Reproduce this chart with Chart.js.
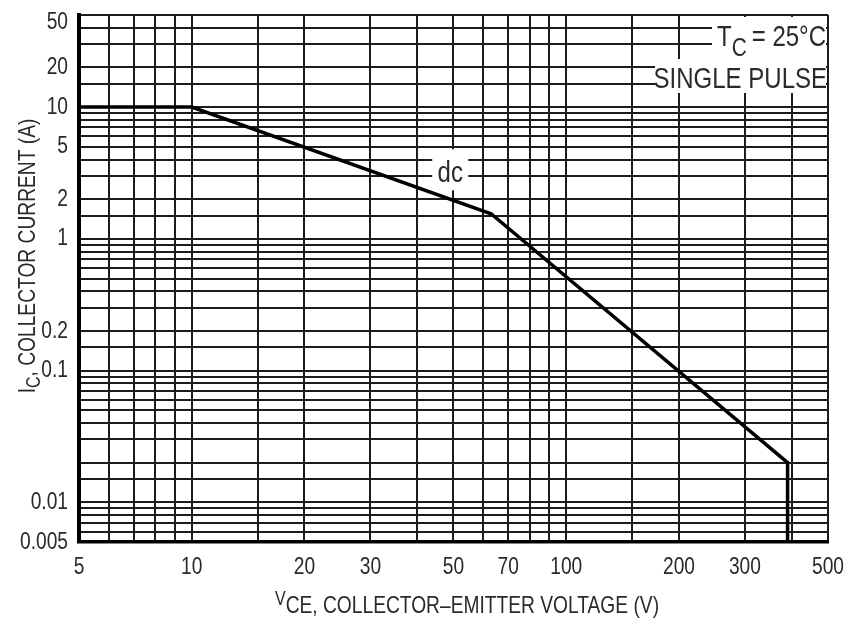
<!DOCTYPE html>
<html>
<head>
<meta charset="utf-8">
<script src="https://cdn.jsdelivr.net/npm/chart.js@4.4.1/dist/chart.umd.min.js"></script>
<style>
  html, body { margin: 0; padding: 0; background: #fff; }
  #wrap { width: 850px; height: 623px; }
</style>
</head>
<body>
<div id="wrap"><canvas id="soa"></canvas></div>
<script>
  // safe operating area, dc curve
  const voltage = [5, 10, 63, 390, 390];
  const current = [10, 10, 1.55, 0.02, 0.005];

  // grid lines and labelled ticks
  const xGrid = [5, 6, 7, 8, 9, 10, 15, 20, 30, 40, 50, 60, 70, 80, 90, 100, 150, 200, 300, 400, 500];
  const xLabels = [5, 10, 20, 30, 50, 70, 100, 200, 300, 500];
  const yGrid = [0.005, 0.006, 0.007, 0.008, 0.009, 0.01, 0.015, 0.02, 0.03, 0.04, 0.05, 0.06, 0.07, 0.08, 0.09,
    0.1, 0.15, 0.2, 0.3, 0.4, 0.5, 0.6, 0.7, 0.8, 0.9, 1, 1.5, 2, 3, 4, 5, 6, 7, 8, 9, 10, 15, 20, 30, 40, 50];
  const yLabels = [50, 20, 10, 5, 2, 1, 0.2, 0.1, 0.01, 0.005];

  const FONT = "'Liberation Sans', Arial, sans-serif";
  const INK = '#2a2a2a';
  const NARROW = 0.8; // the scan uses a condensed face

  // draw a string squeezed horizontally, anchored at (x, y)
  function say(ctx, text, x, y, size, align) {
    ctx.save();
    ctx.translate(x, y);
    ctx.scale(NARROW, 1);
    ctx.font = size + 'px ' + FONT;
    ctx.textAlign = align || 'left';
    ctx.fillText(text, 0, 0);
    ctx.restore();
  }
  function width(ctx, text, size) {
    ctx.font = size + 'px ' + FONT;
    return ctx.measureText(text).width * NARROW;
  }

  const labels = {
    id: 'labels',
    afterDatasetsDraw(chart) {
      const { ctx, chartArea, scales } = chart;
      const { left, right, top, bottom } = chartArea;
      ctx.save();

      // white boxes that break the grid under the notes
      ctx.fillStyle = '#fff';
      ctx.fillRect(right - 116, top + 2, 114, 42);
      ctx.fillRect(right - 173, top + 44, 171, 34);
      const dx = scales.x.getPixelForValue(49);
      const dy = scales.y.getPixelForValue(3.2);
      ctx.fillRect(dx - 18, dy - 23, 36, 41);

      ctx.fillStyle = INK;
      ctx.textBaseline = 'alphabetic';

      // T_C = 25°C / SINGLE PULSE
      const w1 = width(ctx, '= 25°C', 30);
      say(ctx, '= 25°C', right - 2, top + 31, 30, 'right');
      say(ctx, 'C', right - 2 - w1 - 5, top + 41, 26, 'right');
      const w2 = width(ctx, 'C', 26);
      say(ctx, 'T', right - 2 - w1 - 5 - w2, top + 31, 30, 'right');
      say(ctx, 'SINGLE PULSE', right - 1, top + 73, 30, 'right');
      say(ctx, 'dc', dx, dy + 10, 30, 'center');

      // tick labels
      ctx.textBaseline = 'middle';
      xLabels.forEach((v) => {
        say(ctx, String(v), scales.x.getPixelForValue(v), bottom + 25, 24, 'center');
      });
      yLabels.forEach((v) => {
        const py = Math.max(scales.y.getPixelForValue(v), top + 7);
        say(ctx, String(v), left - 11, py, 24, 'right');
      });
      ctx.textBaseline = 'alphabetic';

      // x axis title
      const mainX = 'CE, COLLECTOR\u2013EMITTER VOLTAGE (V)';
      const wm = width(ctx, mainX, 24);
      const wv = width(ctx, 'V', 20);
      const x0 = 467 - (wm + wv) / 2;
      say(ctx, 'V', x0, 605, 20);
      say(ctx, mainX, x0 + wv, 613, 24);

      // y axis title
      ctx.save();
      ctx.translate(35, 256);
      ctx.rotate(-Math.PI / 2);
      const mainY = ', COLLECTOR CURRENT (A)';
      const wy = width(ctx, mainY, 24);
      const wi = width(ctx, 'I', 24);
      const wc = width(ctx, 'C', 20);
      const y0 = -(wy + wi + wc) / 2;
      say(ctx, 'I', y0, 0, 24);
      say(ctx, 'C', y0 + wi, 5, 20);
      say(ctx, mainY, y0 + wi + wc, 0, 24);
      ctx.restore();

      ctx.restore();
    }
  };

  const gridStyle = { color: '#1c1c1c', lineWidth: 2, drawTicks: false };

  new Chart(document.getElementById('soa'), {
    type: 'line',
    data: {
      datasets: [{
        data: voltage.map((v, i) => ({ x: v, y: current[i] })),
        borderColor: '#000',
        borderWidth: 3.5,
        pointRadius: 0,
        tension: 0,
        fill: false,
      }],
    },
    options: {
      responsive: true,
      maintainAspectRatio: false,
      animation: false,
      layout: { padding: { top: 15, right: 22, left: 0, bottom: 0 } },
      plugins: { legend: { display: false }, tooltip: { enabled: false } },
      scales: {
        x: {
          type: 'logarithmic',
          min: 5,
          max: 500,
          afterBuildTicks: (s) => { s.ticks = xGrid.map((v) => ({ value: v })); },
          afterFit: (s) => { s.height = 81; },
          grid: gridStyle,
          border: { display: true, color: '#000', width: 3.5 },
          ticks: { display: false },
        },
        y: {
          type: 'logarithmic',
          min: 0.005,
          max: 50,
          afterBuildTicks: (s) => { s.ticks = yGrid.map((v) => ({ value: v })); },
          afterFit: (s) => { s.width = 79; },
          grid: gridStyle,
          border: { display: true, color: '#000', width: 4 },
          ticks: { display: false },
        },
      },
    },
    plugins: [labels],
  });
</script>
</body>
</html>
